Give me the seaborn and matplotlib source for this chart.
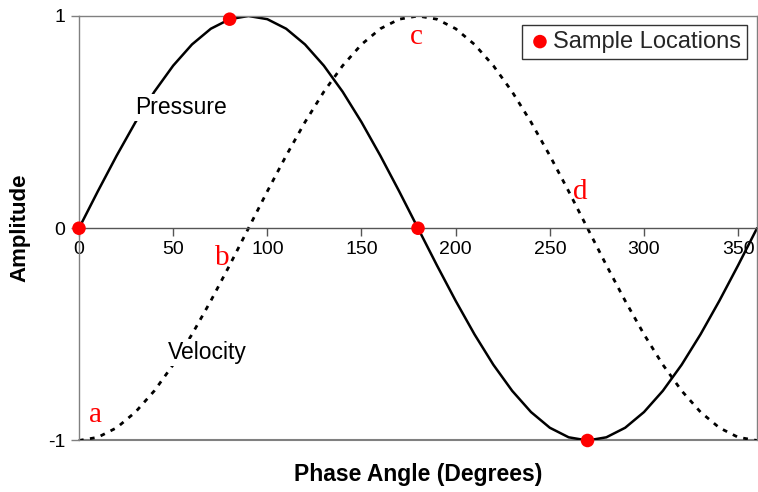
import matplotlib
matplotlib.use("Agg")
import matplotlib.pyplot as plt
import seaborn as sns
import pandas as pd

# Phase angle grid (degrees) and the two waveforms sampled on it
phase_deg = [0, 10, 20, 30, 40, 50, 60, 70, 80, 90, 100, 110, 120, 130, 140, 150, 160, 170, 180,
             190, 200, 210, 220, 230, 240, 250, 260, 270, 280, 290, 300, 310, 320, 330, 340, 350, 360]
pressure = [0.0, 0.174, 0.342, 0.5, 0.643, 0.766, 0.866, 0.940, 0.985, 1.0, 0.985, 0.940, 0.866,
            0.766, 0.643, 0.5, 0.342, 0.174, 0.0, -0.174, -0.342, -0.5, -0.643, -0.766, -0.866,
            -0.940, -0.985, -1.0, -0.985, -0.940, -0.866, -0.766, -0.643, -0.5, -0.342, -0.174, 0.0]
velocity = [-1.0, -0.985, -0.940, -0.866, -0.766, -0.643, -0.5, -0.342, -0.174, 0.0, 0.174, 0.342,
            0.5, 0.643, 0.766, 0.866, 0.940, 0.985, 1.0, 0.985, 0.940, 0.866, 0.766, 0.643, 0.5,
            0.342, 0.174, 0.0, -0.174, -0.342, -0.5, -0.643, -0.766, -0.866, -0.940, -0.985, -1.0]

# Sample locations on the pressure wave
sample_x = [0, 80, 180, 270]
sample_y = [0.0, 0.985, 0.0, -1.0]

# Point labels along the velocity wave
letters = ["a", "b", "c", "d"]
letter_x = [9, 76, 179, 266]
letter_y = [-0.88, -0.14, 0.90, 0.17]

x_ticks = [0, 50, 100, 150, 200, 250, 300, 350]
y_ticks = [-1, 0, 1]

sns.set_theme(style="white")
plt.rcParams["font.family"] = ["Liberation Sans", "DejaVu Sans"]

fig = plt.figure(figsize=(7.58, 4.92), dpi=100)
ax = fig.add_axes([0.1042, 0.1047, 0.8945, 0.8628])

# Frame: x axis runs through zero, grey box around the plotting area
gray = "#808080"
ax.spines["bottom"].set_position(("data", 0))
ax.spines["bottom"].set_color("#555555")
ax.spines["bottom"].set_linewidth(1.0)
for side in ["left", "top", "right"]:
    ax.spines[side].set_color(gray)
    ax.spines[side].set_linewidth(1.0)
ax.axhline(-1, color=gray, lw=1.5, clip_on=False, zorder=1)

df = pd.DataFrame({"phase": phase_deg, "pressure": pressure, "velocity": velocity})
sns.lineplot(data=df, x="phase", y="pressure", ax=ax, color="black", lw=1.8, sort=False)
sns.lineplot(data=df, x="phase", y="velocity", ax=ax, color="black", lw=2.0, sort=False,
             linestyle=(0, (1.7, 2.3)))
sns.scatterplot(x=sample_x, y=sample_y, ax=ax, color="#ff0000", s=95, edgecolor="none",
                zorder=5, clip_on=False, label="Sample Locations")

for t, lx, ly in zip(letters, letter_x, letter_y):
    ax.text(lx, ly, t, color="#ff0000", fontsize=21, family=["Liberation Serif", "DejaVu Serif"],
            ha="center", va="center", zorder=6)

label_box = dict(facecolor="white", edgecolor="none", pad=1.5)
ax.text(54, 0.57, "Pressure", fontsize=16.5, ha="center", va="center", color="black",
        bbox=label_box, zorder=4)
ax.text(68, -0.585, "Velocity", fontsize=16.5, ha="center", va="center", color="black",
        bbox=label_box, zorder=4)

ax.set_xlim(0, 360)
ax.set_ylim(-1, 1)
ax.set_xticks(x_ticks)
ax.set_yticks(y_ticks)
ax.set_xticklabels([str(v) for v in x_ticks])
ax.set_yticklabels([str(v) for v in y_ticks])

ax.tick_params(axis="x", direction="out", length=6, width=1, color="#555555", pad=3,
               labelcolor="black", labelsize=14, bottom=True)
ax.tick_params(axis="y", direction="out", length=6, width=1, color=gray, pad=4,
               labelcolor="black", labelsize=14, left=True)

ax.set_xlabel("Phase Angle (Degrees)", fontsize=16.5, fontweight="bold", color="black")
ax.xaxis.set_label_coords(0.5, -0.052)
ax.set_ylabel("Amplitude", fontsize=16, fontweight="bold", color="black")
ax.yaxis.set_label_coords(-0.072, 0.5)

leg = ax.legend(loc="upper right", bbox_to_anchor=(0.985, 0.979), fontsize=17, frameon=True,
                fancybox=False, edgecolor="black", handletextpad=0.05, borderpad=0.25,
                markerscale=1.0, handlelength=1.0, borderaxespad=0.0)
leg.get_frame().set_linewidth(1.0)

fig.savefig("out.png", dpi=100, facecolor="white")
